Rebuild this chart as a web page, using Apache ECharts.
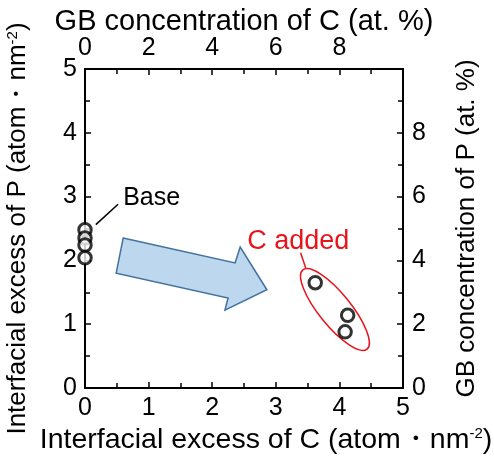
<!DOCTYPE html>
<html>
<head>
<meta charset="utf-8">
<script src="https://cdn.jsdelivr.net/npm/echarts@6/dist/echarts.min.js"></script>
<style>
html, body { margin: 0; padding: 0; background: #fff; }
#main { width: 494px; height: 456px; }
</style>
</head>
<body>
<div id="main"></div>
<script>
// data
const baseC = [0, 0, 0, 0];
const baseP = [2.48, 2.35, 2.24, 2.04];
const addedC = [3.62, 4.13, 4.09];
const addedP = [1.65, 1.14, 0.88];

// annotation anchors, in bottom/left axis units
const arrowPts = [[0.60, 2.35], [2.36, 1.96], [2.44, 2.21], [2.86, 1.54], [2.20, 1.22], [2.25, 1.41], [0.49, 1.80]];
const ellipseAt = [3.93, 1.23];
const baseLabelAt = [0.60, 2.98];
const baseLine = [[0.17, 2.56], [0.52, 2.88]];
const addedLabelAt = [2.55, 2.3];
const addedLine = [[3.39, 2.12], [3.47, 1.88]];

const FONT = "'Liberation Sans', Arial, sans-serif";
const black = '#000';

const chart = echarts.init(document.getElementById('main'));

let supRich = { sup: { fontSize: 15, fontFamily: FONT, color: black, verticalAlign: 'top' } };

let axisBase = function(extra) {
    return Object.assign({
        type: 'value',
        splitLine: { show: false },
        axisLine: { show: true, onZero: false, lineStyle: { color: black, width: 2 } },
        axisTick: { show: true, inside: true, length: 6, lineStyle: { color: black, width: 1.5 } },
        minorTick: { show: true, splitNumber: 2, length: 5, lineStyle: { color: black, width: 1.5 } },
        axisLabel: { color: black, fontSize: 25, fontFamily: FONT, margin: 8 },
        nameLocation: 'middle',
        nameMoveOverlap: false
    }, extra);
};
let hideTen = function(v) { return v >= 10 ? '' : String(v); };

const option = {
    animation: false,
    backgroundColor: '#fff',
    grid: { left: 85, right: 91, top: 69, bottom: 68, containLabel: false, outerBoundsMode: 'none' },
    xAxis: [
        axisBase({ position: 'bottom', min: 0, max: 5, interval: 1,
            name: 'Interfacial excess of C (atom・nm{sup|-2})', nameGap: 38,
            nameTextStyle: { color: black, fontSize: 28.5, fontFamily: FONT, padding: [0, 0, 0, 44], rich: supRich } }),
        axisBase({ position: 'top', min: 0, max: 10, interval: 2,
            axisLabel: { color: black, fontSize: 25, fontFamily: FONT, margin: 8, formatter: hideTen },
            name: 'GB concentration of C (at. %)', nameGap: 33,
            nameTextStyle: { color: black, fontSize: 29, fontFamily: FONT } })
    ],
    yAxis: [
        axisBase({ position: 'left', min: 0, max: 5, interval: 1,
            name: 'Interfacial excess of P (atom・nm{sup|-2})', nameGap: 54, nameRotate: 90,
            nameTextStyle: { color: black, fontSize: 26, fontFamily: FONT, rich: supRich } }),
        axisBase({ position: 'right', min: 0, max: 10, interval: 2,
            axisLabel: { color: black, fontSize: 25, fontFamily: FONT, margin: 9, formatter: hideTen },
            name: 'GB concentration of P (at. %)', nameGap: 51, nameRotate: 90,
            nameTextStyle: { color: black, fontSize: 26, fontFamily: FONT } })
    ],
    series: [
        {
            name: 'Base', type: 'scatter', xAxisIndex: 0, yAxisIndex: 0, clip: false, z: 5,
            symbol: 'circle', symbolSize: 12.5,
            itemStyle: { color: '#fff', borderColor: black, borderWidth: 3 },
            data: baseC.map((c, i) => [c, baseP[i]])
        },
        {
            name: 'C added', type: 'scatter', xAxisIndex: 0, yAxisIndex: 0, clip: false, z: 5,
            symbol: 'circle', symbolSize: 12.5,
            itemStyle: { color: '#fff', borderColor: black, borderWidth: 3 },
            data: addedC.map((c, i) => [c, addedP[i]])
        }
    ]
};
chart.setOption(option);

const px = p => chart.convertToPixel({ xAxisIndex: 0, yAxisIndex: 0 }, p);
const ec = px(ellipseAt);
const bl = px(baseLabelAt);
const al = px(addedLabelAt);

chart.setOption({
    graphic: [
        {
            type: 'polygon', z: 3,
            shape: { points: arrowPts.map(px) },
            style: { fill: '#BDD7EE', stroke: '#41719C', lineWidth: 1.5 }
        },
        {
            type: 'ellipse', z: 3, x: ec[0], y: ec[1], rotation: 0.68,
            shape: { cx: 0, cy: 0, rx: 16, ry: 51 },
            style: { fill: null, stroke: '#E8141B', lineWidth: 1.5 }
        },
        {
            type: 'line', z: 3,
            shape: { x1: px(baseLine[0])[0], y1: px(baseLine[0])[1], x2: px(baseLine[1])[0], y2: px(baseLine[1])[1] },
            style: { stroke: black, lineWidth: 1.5 }
        },
        {
            type: 'line', z: 3,
            shape: { x1: px(addedLine[0])[0], y1: px(addedLine[0])[1], x2: px(addedLine[1])[0], y2: px(addedLine[1])[1] },
            style: { stroke: '#E8141B', lineWidth: 1.5 }
        },
        {
            type: 'text', z: 4, x: bl[0], y: bl[1],
            style: { text: 'Base', fill: black, font: '25px ' + FONT, textVerticalAlign: 'middle' }
        },
        {
            type: 'text', z: 4, x: al[0], y: al[1],
            style: { text: 'C added', fill: '#E8141B', font: '27px ' + FONT, textVerticalAlign: 'middle' }
        }
    ]
});
</script>
</body>
</html>
